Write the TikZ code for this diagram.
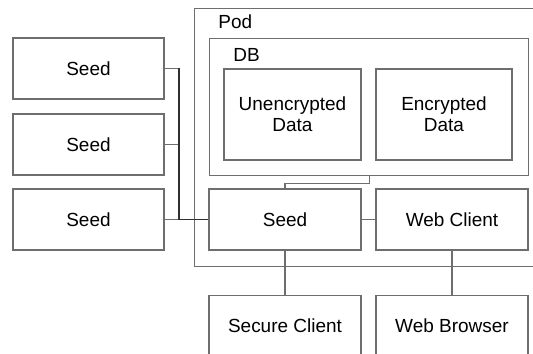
\documentclass[tikz,border=0pt]{standalone}
\usepackage{fontspec}
\setmainfont{Liberation Sans}
\usepackage{xcolor}
\usepackage{tikz}
\definecolor{boxgray}{HTML}{6E6E6E}
\definecolor{busgray}{HTML}{303030}

\begin{document}
\begin{tikzpicture}[
  box/.style={draw=boxgray, line width=0.6pt, minimum width=3.04cm, minimum height=1.22cm,
    inner sep=0pt, align=center, font=\fontsize{10.8}{12}\selectfont},
  tag/.style={anchor=west, inner sep=0pt, font=\fontsize{10.8}{12}\selectfont},
  wire/.style={draw=boxgray, line width=0.6pt}]
  \clip (0,0) rectangle (10.66,7.08);
  % containers
  \node[box, minimum width=7.2cm, minimum height=5.16cm, anchor=north west] (pod) at (3.88,6.92) {};
  \node[tag] (podlbl) at (4.36,6.64) {Pod};
  \node[box, minimum width=6.38cm, minimum height=2.74cm, anchor=north west] (db) at (4.18,6.32) {};
  \node[tag] (dblbl) at (4.66,5.99) {DB};
  \node[box, minimum width=2.74cm, minimum height=1.82cm] (plain) at (5.85,4.79) {Unencrypted\\Data};
  \node[box, minimum width=2.72cm, minimum height=1.82cm] (crypt) at (8.88,4.79) {Encrypted\\Data};
  \node[box] (core) at (5.70,2.69) {Seed};
  \node[box] (web) at (9.04,2.69) {Web Client};
  \node[box] (secure) at (5.70,0.56) {Secure Client};
  \node[box] (browser) at (9.04,0.56) {Web Browser};
  % outside seeds
  \foreach \i/\y in {1/5.71, 2/4.19, 3/2.69}
    \node[box, minimum width=3.02cm] (seed\i) at (1.77,\y) {Seed};
  \coordinate (bus) at (3.58,2.69);
  \draw[wire] (seed1.east) -- (3.58,5.71);
  \draw[wire] (seed2.east) -- (3.58,4.19);
  \draw[wire] (seed3.east) -- (bus);
  \draw[busgray, line width=0.6pt] (3.58,5.71) -- (bus) -- (core.west);
  % links
  \draw[wire] (db.south) -- ++(0,-0.14) -| (core.north);
  \draw[wire] (core.east) -- (web.west);
  \draw[wire] (core.south) -- (secure.north);
  \draw[wire] (web.south) -- (browser.north);
\end{tikzpicture}
\end{document}
